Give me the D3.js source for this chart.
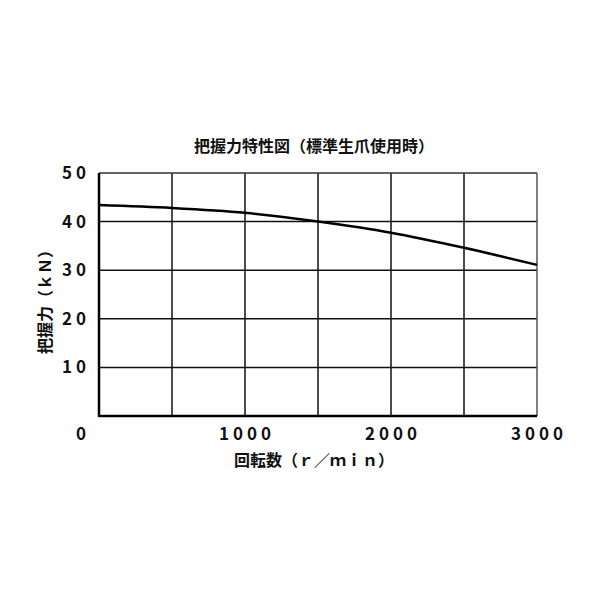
<!DOCTYPE html>
<html>
<head>
<meta charset="utf-8">
<script src="https://cdn.jsdelivr.net/npm/d3@7.9.0/dist/d3.min.js"></script>
<style>
  body { margin: 0; background: #fff; }
  text { font-family: "Noto Sans CJK JP", sans-serif; fill: #111; }
</style>
</head>
<body>
<svg width="600" height="600"></svg>
<script>
// data
const speeds = [0, 500, 1000, 1500, 2000, 2500, 3000];     // r/min
const force = [43.4, 42.8, 41.8, 40.0, 37.7, 34.6, 31.1];  // kN
const xTickValues = [1000, 2000, 3000];
const yTickValues = [10, 20, 30, 40, 50];
const xGrid = [500, 1000, 1500, 2000, 2500];
const yGrid = [10, 20, 30, 40];

const svg = d3.select('svg');

const x = d3.scaleLinear().domain([0, 3000]).range([99, 537]);
const y = d3.scaleLinear().domain([0, 50]).range([416, 173]);

// grid
svg.append('g').selectAll('line').data(xGrid).join('line')
  .attr('x1', d => x(d)).attr('x2', d => x(d))
  .attr('y1', y(0)).attr('y2', y(50))
  .attr('stroke', '#111').attr('stroke-width', 1.5);

svg.append('g').selectAll('line').data(yGrid).join('line')
  .attr('x1', x(0)).attr('x2', x(3000))
  .attr('y1', d => y(d)).attr('y2', d => y(d))
  .attr('stroke', '#111').attr('stroke-width', 1.5);

// frame: top and right thinner, left and bottom heavier
svg.append('line')
  .attr('x1', x(0)).attr('x2', x(3000)).attr('y1', y(50)).attr('y2', y(50))
  .attr('stroke', '#333').attr('stroke-width', 1.5);
svg.append('line')
  .attr('x1', x(3000)).attr('x2', x(3000)).attr('y1', y(0)).attr('y2', y(50))
  .attr('stroke', '#555').attr('stroke-width', 1.5);
svg.append('line')
  .attr('x1', x(0)).attr('x2', x(0)).attr('y1', y(0) + 1).attr('y2', y(50))
  .attr('stroke', '#000').attr('stroke-width', 2.5);
svg.append('line')
  .attr('x1', x(0)).attr('x2', x(3000)).attr('y1', y(0)).attr('y2', y(0))
  .attr('stroke', '#000').attr('stroke-width', 2.5);

// curve
const line = d3.line()
  .x((d, i) => x(speeds[i]))
  .y(d => y(d))
  .curve(d3.curveMonotoneX);

svg.append('path')
  .datum(force)
  .attr('d', line)
  .attr('fill', 'none')
  .attr('stroke', '#000')
  .attr('stroke-width', 2.5);

// tick labels
svg.append('g').selectAll('text').data(yTickValues).join('text')
  .attr('x', 90).attr('y', d => y(d) + 6)
  .attr('text-anchor', 'end')
  .attr('font-size', 17)
  .attr('font-weight', 'bold')
  .attr('letter-spacing', 4)
  .text(d => d);

svg.append('g').selectAll('text').data(xTickValues).join('text')
  .attr('x', d => x(d) + 2).attr('y', 440)
  .attr('text-anchor', 'middle')
  .attr('font-size', 17)
  .attr('font-weight', 'bold')
  .attr('letter-spacing', 4)
  .text(d => d);

svg.append('text')
  .attr('x', 90).attr('y', 440)
  .attr('text-anchor', 'end')
  .attr('font-size', 17)
  .attr('font-weight', 'bold')
  .attr('letter-spacing', 4)
  .text('0');

// titles
svg.append('text')
  .attr('x', 314).attr('y', 152)
  .attr('text-anchor', 'middle')
  .attr('font-size', 16)
  .attr('font-weight', 'bold')
  .text('把握力特性図（標準生爪使用時）');

svg.append('text')
  .attr('x', 314).attr('y', 466)
  .attr('text-anchor', 'middle')
  .attr('font-size', 16)
  .attr('font-weight', 'bold')
  .text('回転数（ｒ／ｍｉｎ）');

svg.append('text')
  .attr('transform', 'translate(51,298) rotate(-90)')
  .attr('text-anchor', 'middle')
  .attr('font-size', 16)
  .attr('font-weight', 'bold')
  .text('把握力（ｋＮ）');
</script>
</body>
</html>
